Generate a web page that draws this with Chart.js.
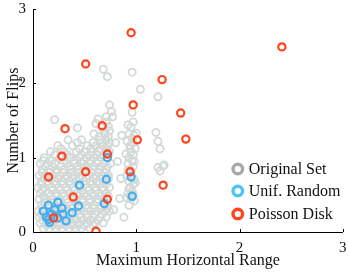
<!DOCTYPE html>
<html>
<head>
<meta charset="utf-8">
<script src="https://cdn.jsdelivr.net/npm/chart.js@4/dist/chart.umd.min.js"></script>
<style>
  html, body { margin: 0; padding: 0; background: #fff; }
  #wrap { width: 349px; height: 272px; }
</style>
</head>
<body>
<div id="wrap"><canvas id="graphic"></canvas></div>
<script>
// series labels
const seriesLabels = ['Original Set', 'Unif. Random', 'Poisson Disk'];
const axisTicks = [0, 1, 2, 3];

// original set (gray) as [range, flips]
const origSet = [
  [0.10,0.05],[0.16,0.05],[0.22,0.05],[0.28,0.05],[0.35,0.05],[0.41,0.05],[0.47,0.05],[0.55,0.05],
  [0.07,0.12],[0.13,0.12],[0.19,0.12],[0.26,0.12],[0.31,0.12],[0.38,0.12],[0.44,0.12],[0.52,0.12],[0.60,0.12],[0.68,0.12],
  [0.06,0.20],[0.11,0.20],[0.18,0.20],[0.24,0.20],[0.33,0.20],[0.40,0.20],[0.46,0.20],[0.53,0.20],[0.58,0.20],[0.65,0.20],[0.71,0.20],
  [0.05,0.28],[0.12,0.28],[0.20,0.28],[0.27,0.28],[0.35,0.28],[0.42,0.28],[0.49,0.28],[0.56,0.28],[0.62,0.28],[0.70,0.28],[0.74,0.28],
  [0.08,0.36],[0.14,0.36],[0.22,0.36],[0.30,0.36],[0.37,0.36],[0.45,0.36],[0.51,0.36],[0.59,0.36],[0.66,0.36],[0.72,0.36],[0.93,0.36],
  [0.06,0.44],[0.13,0.44],[0.19,0.44],[0.26,0.44],[0.33,0.44],[0.40,0.44],[0.48,0.44],[0.55,0.44],[0.63,0.44],[0.69,0.44],[0.95,0.44],[0.98,0.42],
  [0.07,0.52],[0.15,0.52],[0.23,0.52],[0.29,0.52],[0.36,0.52],[0.43,0.52],[0.50,0.52],[0.57,0.52],[0.64,0.52],[0.71,0.52],[0.92,0.52],[0.96,0.55],
  [0.05,0.60],[0.11,0.60],[0.18,0.60],[0.25,0.60],[0.32,0.60],[0.39,0.60],[0.46,0.60],[0.53,0.60],[0.60,0.60],[0.68,0.60],[0.74,0.60],[0.94,0.60],[0.97,0.64],
  [0.08,0.68],[0.14,0.68],[0.21,0.68],[0.28,0.68],[0.35,0.68],[0.42,0.68],[0.49,0.68],[0.56,0.68],[0.62,0.68],[0.70,0.68],[0.93,0.68],[0.98,0.71],
  [0.06,0.76],[0.12,0.76],[0.19,0.76],[0.26,0.76],[0.33,0.76],[0.40,0.76],[0.47,0.76],[0.54,0.76],[0.61,0.76],[0.67,0.76],[0.73,0.76],[0.91,0.76],[0.95,0.79],
  [0.09,0.84],[0.16,0.84],[0.23,0.84],[0.30,0.84],[0.37,0.84],[0.44,0.84],[0.51,0.84],[0.58,0.84],[0.64,0.84],[0.71,0.84],[0.94,0.84],[0.97,0.88],[1.23,0.82],
  [0.07,0.92],[0.14,0.92],[0.21,0.92],[0.33,0.92],[0.40,0.92],[0.47,0.92],[0.55,0.92],[0.62,0.92],[0.69,0.92],[0.75,0.92],[0.92,0.92],[0.96,0.96],[1.27,0.90],
  [0.11,1.00],[0.26,1.00],[0.36,1.00],[0.45,1.00],[0.52,1.00],[0.59,1.00],[0.66,1.00],[0.72,1.00],[0.93,1.00],[0.97,1.04],
  [0.17,1.08],[0.30,1.08],[0.42,1.08],[0.50,1.08],[0.57,1.08],[0.64,1.08],[0.70,1.08],[0.74,1.08],[0.95,1.08],[0.99,1.12],
  [0.24,1.16],[0.38,1.16],[0.53,1.16],[0.61,1.16],[0.68,1.16],[0.72,1.16],[0.94,1.16],[0.97,1.20],[1.21,1.22],
  [0.34,1.24],[0.47,1.24],[0.65,1.24],[0.71,1.24],[0.96,1.26],
  [0.59,1.32],[0.70,1.32],[0.74,1.36],[0.93,1.32],[1.00,1.33],[1.19,1.34],
  [0.43,1.40],[0.67,1.40],[0.73,1.42],[0.95,1.41],
  [0.61,1.46],[0.71,1.48],[0.21,1.51],
  [0.68,2.19],[0.96,2.15],[0.72,2.09],[1.04,1.92],[1.21,1.82],[0.74,1.71],[0.76,1.62],
  [0.71,1.55],[0.77,1.55],[0.96,1.61],[1.23,1.12],[1.26,0.89],[1.21,0.87],[0.90,1.05],
  [0.82,0.95],[0.84,0.45],[0.78,0.30],[0.88,0.20],[0.85,0.72],[0.80,1.20],[0.86,1.30],
  // second, staggered pass through the dense cloud
  [0.13,0.09],[0.19,0.09],[0.25,0.09],[0.32,0.09],[0.38,0.09],[0.44,0.09],[0.50,0.09],[0.58,0.09],
  [0.09,0.16],[0.15,0.16],[0.22,0.16],[0.29,0.16],[0.36,0.16],[0.42,0.16],[0.49,0.16],[0.56,0.16],[0.63,0.16],
  [0.08,0.24],[0.15,0.24],[0.22,0.24],[0.30,0.24],[0.38,0.24],[0.45,0.24],[0.52,0.24],[0.60,0.24],[0.67,0.24],
  [0.09,0.32],[0.16,0.32],[0.24,0.32],[0.31,0.32],[0.39,0.32],[0.46,0.32],[0.53,0.32],[0.59,0.32],[0.66,0.32],[0.72,0.32],
  [0.11,0.40],[0.18,0.40],[0.26,0.40],[0.34,0.40],[0.41,0.40],[0.48,0.40],[0.55,0.40],[0.62,0.40],[0.69,0.40],
  [0.10,0.48],[0.17,0.48],[0.23,0.48],[0.30,0.48],[0.37,0.48],[0.44,0.48],[0.52,0.48],[0.59,0.48],[0.66,0.48],[0.73,0.48],
  [0.09,0.56],[0.19,0.56],[0.26,0.56],[0.33,0.56],[0.40,0.56],[0.47,0.56],[0.54,0.56],[0.61,0.56],[0.68,0.56],
  [0.08,0.64],[0.15,0.64],[0.22,0.64],[0.29,0.64],[0.36,0.64],[0.43,0.64],[0.50,0.64],[0.57,0.64],[0.64,0.64],[0.71,0.64],
  [0.11,0.72],[0.17,0.72],[0.24,0.72],[0.31,0.72],[0.38,0.72],[0.45,0.72],[0.52,0.72],[0.59,0.72],[0.66,0.72],[0.73,0.72],
  [0.09,0.80],[0.16,0.80],[0.23,0.80],[0.29,0.80],[0.37,0.80],[0.44,0.80],[0.50,0.80],[0.57,0.80],[0.64,0.80],[0.70,0.80],
  [0.12,0.88],[0.19,0.88],[0.27,0.88],[0.36,0.88],[0.43,0.88],[0.51,0.88],[0.58,0.88],[0.66,0.88],[0.72,0.88],
  [0.10,0.96],[0.18,0.96],[0.30,0.96],[0.40,0.96],[0.49,0.96],[0.56,0.96],[0.63,0.96],[0.70,0.96],
  [0.21,1.04],[0.33,1.04],[0.47,1.04],[0.55,1.04],[0.62,1.04],[0.68,1.04],[0.73,1.04],
  [0.27,1.12],[0.45,1.12],[0.56,1.12],[0.65,1.12],[0.71,1.12],
  [0.43,1.20],[0.58,1.20],[0.66,1.20],[0.74,1.20],
  [0.91,0.46],[0.97,0.50],[0.93,0.58],[0.99,0.66],[0.92,0.83],[0.98,0.95],[0.94,1.12],
  [0.91,1.22],[0.98,1.30],[0.92,1.44],[0.97,1.48],
  [0.64,1.28],[0.69,1.36],[0.63,1.52],[0.73,1.28]
];

// uniform random sampling (blue)
const unifRandom = [
  [0.72,1.00],[0.71,0.71],[0.45,0.63],[0.95,0.74],[0.96,0.48],[0.69,0.38],[0.44,0.35],
  [0.38,0.26],[0.32,0.15],[0.24,0.40],[0.15,0.36],[0.10,0.28],[0.28,0.32],[0.29,0.24],
  [0.15,0.17],[0.13,0.20],[0.18,0.24],[0.24,0.19],[0.16,0.13],[0.21,0.30]
];

// poisson disk sampling (red)
const poissonDisk = [
  [0.95,2.68],[0.51,2.26],[1.25,2.05],[0.97,1.71],[0.67,1.43],[0.31,1.39],[1.43,1.60],
  [1.48,1.25],[2.41,2.49],[1.01,1.24],[0.72,1.05],[0.28,1.02],[0.15,0.74],[0.51,0.81],
  [0.94,0.81],[0.39,0.47],[0.72,0.44],[1.26,0.63],[0.20,0.19],[0.61,0.01]
];

const pointColors = ['#d3d9d7', '#45aef0', '#ff4520'];
const legendColors = ['#a8a8a8', '#4cc6f4', '#ff4520'];
const FONT = "'Liberation Serif', 'Times New Roman', serif";

const toXY = arr => arr.map(p => ({ x: p[0], y: p[1] }));

// drop the extra room chart.js keeps for overhanging tick labels
function noOverhang(scale) {
  scale.paddingTop = 0;
  scale.paddingBottom = 0;
  scale.paddingLeft = 0;
  scale.paddingRight = 0;
}

// ticks pointing into the plot
const inwardTicks = {
  id: 'inwardTicks',
  afterDraw(chart) {
    const ctx = chart.ctx, a = chart.chartArea;
    const xs = chart.scales.x, ys = chart.scales.y;
    ctx.save();
    ctx.strokeStyle = '#000';
    ctx.lineWidth = 1;
    ctx.beginPath();
    axisTicks.forEach(v => {
      const px = Math.round(xs.getPixelForValue(v)) + 0.5;
      ctx.moveTo(px, a.bottom); ctx.lineTo(px, a.bottom - 3);
      const py = Math.round(ys.getPixelForValue(v)) + 0.5;
      ctx.moveTo(a.left, py); ctx.lineTo(a.left + 3, py);
    });
    ctx.stroke();
    ctx.restore();
  }
};

// legend drawn inside the plot, lower right
const innerLegend = {
  id: 'innerLegend',
  afterDraw(chart) {
    const ctx = chart.ctx, a = chart.chartArea;
    const mx = a.right - 105;
    const rows = [a.bottom - 63, a.bottom - 41, a.bottom - 18];
    ctx.save();
    ctx.font = '16px ' + FONT;
    ctx.textBaseline = 'middle';
    ctx.fillStyle = '#111';
    chart.data.datasets.forEach((ds, i) => {
      ctx.beginPath();
      ctx.arc(mx, rows[i], 4.8, 0, Math.PI * 2);
      ctx.lineWidth = 3.4;
      ctx.strokeStyle = legendColors[i];
      ctx.stroke();
      ctx.fillText(ds.label, mx + 11, rows[i] + 1);
    });
    ctx.restore();
  }
};

const graphic = document.getElementById('graphic');

const graphicControler = new Chart(graphic, {
  type: 'scatter',
  data: {
    datasets: [
      {
        label: seriesLabels[0],
        data: toXY(origSet),
        borderColor: pointColors[0],
        backgroundColor: 'rgba(0,0,0,0)',
        pointRadius: 3.6,
        borderWidth: 1.8,
        order: 3,
      },
      {
        label: seriesLabels[1],
        data: toXY(unifRandom),
        borderColor: pointColors[1],
        backgroundColor: 'rgba(0,0,0,0)',
        pointRadius: 3.6,
        borderWidth: 2.2,
        order: 2,
      },
      {
        label: seriesLabels[2],
        data: toXY(poissonDisk),
        borderColor: pointColors[2],
        backgroundColor: 'rgba(0,0,0,0)',
        pointRadius: 3.6,
        borderWidth: 2.2,
        order: 1,
      },
    ],
  },
  options: {
    responsive: true,
    maintainAspectRatio: false,
    animation: false,
    layout: { padding: { top: 9, right: 6, left: 0, bottom: 0 } },
    plugins: {
      legend: { display: false },
      tooltip: { enabled: false },
    },
    scales: {
      x: {
        type: 'linear',
        min: 0,
        max: 3,
        afterFit(scale) { scale.height = 40; noOverhang(scale); },
        ticks: { stepSize: 1, color: '#111', padding: 7, font: { family: FONT, size: 15 } },
        grid: { drawOnChartArea: false, drawTicks: false },
        border: { display: true, color: '#000', width: 1 },
        title: { display: true, text: 'Maximum Horizontal Range', color: '#111',
                 font: { family: FONT, size: 16 }, padding: { top: 0, bottom: 2 } },
      },
      y: {
        type: 'linear',
        min: 0,
        max: 3,
        afterFit(scale) { scale.width = 33; noOverhang(scale); },
        ticks: { stepSize: 1, color: '#111', padding: 7, font: { family: FONT, size: 15 } },
        grid: { drawOnChartArea: false, drawTicks: false },
        border: { display: true, color: '#000', width: 1 },
        title: { display: true, text: 'Number of Flips', color: '#111',
                 font: { family: FONT, size: 16 }, padding: { top: 4, bottom: 0 } },
      },
    },
  },
  plugins: [inwardTicks, innerLegend],
});
</script>
</body>
</html>
